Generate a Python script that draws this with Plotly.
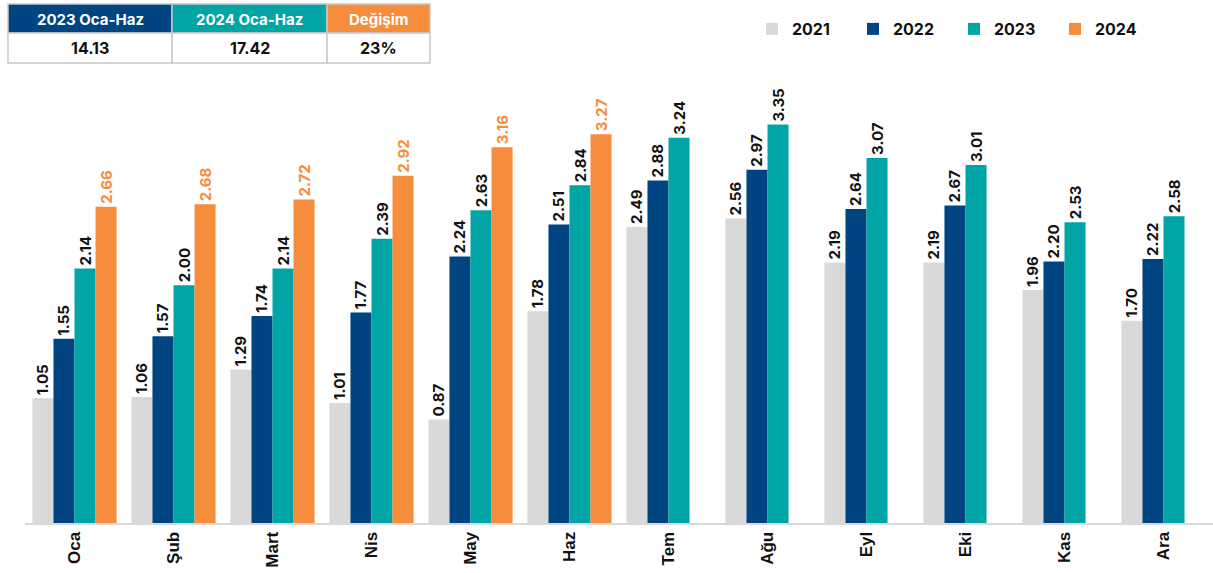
import plotly.graph_objects as go

months = ["Oca", "Şub", "Mart", "Nis", "May", "Haz", "Tem", "Ağu", "Eyl", "Eki", "Kas", "Ara"]
v2021 = [1.05, 1.06, 1.29, 1.01, 0.87, 1.78, 2.49, 2.56, 2.19, 2.19, 1.96, 1.70]
v2022 = [1.55, 1.57, 1.74, 1.77, 2.24, 2.51, 2.88, 2.97, 2.64, 2.67, 2.20, 2.22]
v2023 = [2.14, 2.00, 2.14, 2.39, 2.63, 2.84, 3.24, 3.35, 3.07, 3.01, 2.53, 2.58]
v2024 = [2.66, 2.68, 2.72, 2.92, 3.16, 3.27, None, None, None, None, None, None]

table_headers = ["2023 Oca-Haz", "2024 Oca-Haz", "Değişim"]
table_values = ["14.13", "17.42", "23%"]

series = [("2021", v2021, "#D9D9D9", "#111111"),
          ("2022", v2022, "#004481", "#111111"),
          ("2023", v2023, "#02A5A5", "#111111"),
          ("2024", v2024, "#F68D3C", "#F68D3C")]

W, H = 1213, 573
BOTTOM = 50
PH = H - BOTTOM  # paper height in px

fig = go.Figure()
for name, vals, col, tcol in series:
    fig.add_trace(go.Bar(
        x=months, y=vals, name=name, marker=dict(color=col, line=dict(width=0)),
        text=[f"{v:.2f}" if v is not None else "" for v in vals],
        textposition="outside", textangle=-90, cliponaxis=False,
        textfont=dict(family="Inter", size=15, color=tcol, weight="bold"),
    ))

def px_x(x):
    return x / W

def px_y(y):
    return 1 - y / PH

shapes = []
annotations = []
cols = [(8, 172, "#004481"), (172, 327, "#02A5A5"), (327, 430, "#F68D3C")]
for i, (x0, x1, c) in enumerate(cols):
    shapes.append(dict(type="rect", xref="paper", yref="paper",
                       x0=px_x(x0), x1=px_x(x1), y0=px_y(33), y1=px_y(4),
                       fillcolor=c, line=dict(color="#C8C8C8", width=1.5)))
    shapes.append(dict(type="rect", xref="paper", yref="paper",
                       x0=px_x(x0), x1=px_x(x1), y0=px_y(63), y1=px_y(33),
                       fillcolor="white", line=dict(color="#C8C8C8", width=1.5)))
    annotations.append(dict(xref="paper", yref="paper", x=px_x((x0 + x1) / 2), y=px_y(19),
                            xanchor="center", yanchor="middle",
                            text=table_headers[i], showarrow=False,
                            font=dict(family="Inter", size=15, color="white", weight="bold")))
    annotations.append(dict(xref="paper", yref="paper", x=px_x((x0 + x1) / 2), y=px_y(48),
                            xanchor="center", yanchor="middle",
                            text=table_values[i], showarrow=False,
                            font=dict(family="Inter", size=16, color="#111111", weight="bold")))

fig.update_layout(
    width=W, height=H,
    margin=dict(l=0, r=0, t=0, b=BOTTOM, autoexpand=False),
    plot_bgcolor="white", paper_bgcolor="white",
    barmode="group", bargap=0.15, bargroupgap=0,
    uniformtext=dict(minsize=15, mode="show"),
    showlegend=True,
    legend=dict(orientation="h", x=px_x(752), y=px_y(29), yanchor="middle", xanchor="left",
                entrywidth=56, entrywidthmode="pixels", itemwidth=30,
                font=dict(family="Inter", size=16, color="#111111", weight="bold"),
                bgcolor="rgba(0,0,0,0)"),
    xaxis=dict(domain=[25 / W, 1], showgrid=False, showline=True, linecolor="#D9D9D9",
               linewidth=2, tickangle=-90, ticks="", automargin=False,
               tickfont=dict(family="Liberation Sans", size=17, color="#111111", weight="bold")),
    yaxis=dict(domain=[0, (PH - 83) / PH], range=[0, 3.7], visible=False, showgrid=False),
    shapes=shapes, annotations=annotations,
)

fig.write_html("out.html", config={"displayModeBar": False},
               post_script="document.body.style.margin='0';document.body.style.overflow='hidden';")
